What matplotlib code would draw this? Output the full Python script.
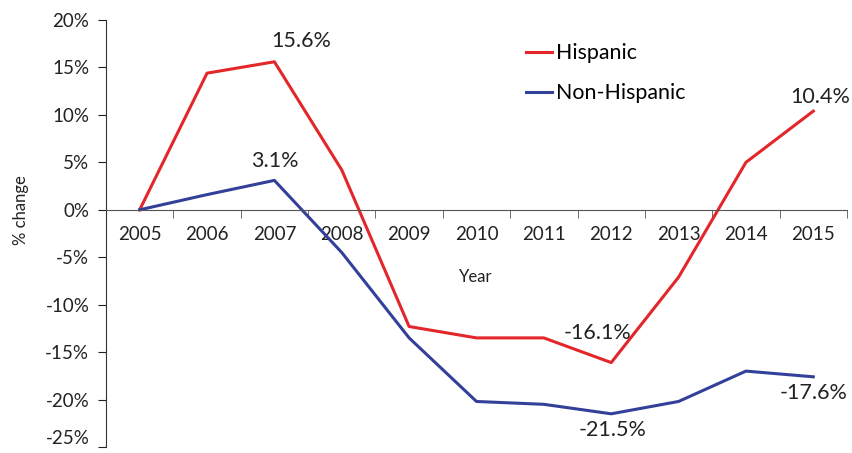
import matplotlib.pyplot as plt
from matplotlib.ticker import FixedLocator, FuncFormatter

plt.rcParams['font.family'] = ['Lato', 'DejaVu Sans']

years = ['2005', '2006', '2007', '2008', '2009', '2010',
         '2011', '2012', '2013', '2014', '2015']
hispanic = [0.0, 14.4, 15.6, 4.2, -12.3, -13.5, -13.5, -16.1, -7.1, 5.0, 10.4]
non_hispanic = [0.0, 1.6, 3.1, -4.5, -13.5, -20.2, -20.5, -21.5, -20.2, -17.0, -17.6]
y_ticks = [20, 15, 10, 5, 0, -5, -10, -15, -20, -25]

red = '#e3262a'
blue = '#33409a'

fig = plt.figure(figsize=(8.52, 4.53), dpi=100)
ax = fig.add_axes([0.1244, 0.0132, 0.8697, 0.9426])

x = list(range(len(years)))
ax.plot(x, hispanic, color=red, lw=2.2, label='Hispanic')
ax.plot(x, non_hispanic, color=blue, lw=2.2, label='Non-Hispanic')

ax.set_xlim(-0.5, len(years) - 0.5)
ax.set_ylim(-25, 20)

# spines: left axis plus a category axis running through zero
for s in ['top', 'right']:
    ax.spines[s].set_visible(False)
ax.spines['bottom'].set_position(('data', 0))
ax.spines['bottom'].set_color('#555555')
ax.spines['left'].set_color('#333333')

ax.set_yticks(y_ticks)
ax.yaxis.set_major_formatter(FuncFormatter(lambda v, p: f'{v:.0f}%'))
ax.tick_params(axis='y', length=6, labelsize=13.5, pad=6, colors='#222222')

ax.set_xticks(x)
ax.set_xticklabels(years)
ax.xaxis.set_minor_locator(FixedLocator([i + 0.5 for i in x]))
ax.tick_params(axis='x', which='major', length=0, pad=12, labelsize=13.5, colors='#222222')
ax.tick_params(axis='x', which='minor', length=6, color='#555555')

# keep the lowest tick label inside the canvas
fig.canvas.draw()
ax.get_yticklabels()[-1].set_verticalalignment('bottom')

fig.text(0.558, 1 - 277 / 453, 'Year', fontsize=12, ha='center', va='center', color='#222222')
fig.text(0.025, 1 - 210 / 453, '% change', fontsize=12, rotation=90,
         ha='center', va='center', color='#222222')

# data labels (offsets in points)
ann = dict(fontsize=15.5, color='#222222', ha='center', va='center',
           textcoords='offset points')
ax.annotate('15.6%', (2, hispanic[2]), xytext=(19, 15), **ann)
ax.annotate('3.1%', (2, non_hispanic[2]), xytext=(0, 14), **ann)
ax.annotate('-16.1%', (7, hispanic[7]), xytext=(-10, 21), **ann)
ax.annotate('-21.5%', (7, non_hispanic[7]), xytext=(1, -12), **ann)
ax.annotate('10.4%', (10, hispanic[10]), xytext=(5, 10), **ann)
ax.annotate('-17.6%', (10, non_hispanic[10]), xytext=(0, -12), **ann)

ax.legend(loc='upper left', bbox_to_anchor=(0.567, 0.946), frameon=False,
          fontsize=15.4, handlelength=1.2, handletextpad=0.2, labelspacing=0.95,
          borderpad=0, borderaxespad=0)

fig.savefig('out.png', dpi=100)
